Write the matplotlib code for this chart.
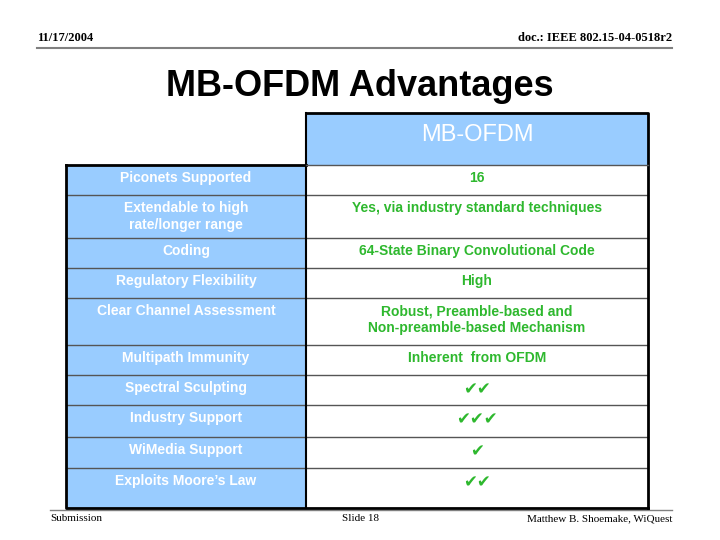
import matplotlib
matplotlib.use("Agg")
import matplotlib.pyplot as plt
from matplotlib.patches import Rectangle

title = "MB-OFDM Advantages"
column_header = "MB-OFDM"
features = ["Piconets Supported", "Extendable to high\nrate/longer range", "Coding",
            "Regulatory Flexibility", "Clear Channel Assessment", "Multipath Immunity",
            "Spectral Sculpting", "Industry Support", "WiMedia Support", "Exploits Moore\u2019s Law"]
values = ["16", "Yes, via industry standard techniques", "64-State Binary Convolutional Code",
          "High", "Robust, Preamble-based and\nNon-preamble-based Mechanism", "Inherent  from OFDM",
          "\u2714\u2714", "\u2714\u2714\u2714", "\u2714", "\u2714\u2714"]
header_left = "11/17/2004"
header_right = "doc.: IEEE 802.15-04-0518r2"
footer = ["Submission", "Slide 18", "Matthew B. Shoemake, WiQuest"]

# layout (pixels)
row_edges = [165, 195, 238, 268, 298, 345, 375, 405, 437, 468, 508]
x0, xm, x1, ytop = 66, 306, 648, 113
blue = "#99CCFF"
green = "#2EB82E"

fig = plt.figure(figsize=(7.2, 5.4), dpi=100)
ax = fig.add_axes([0, 0, 1, 1])
ax.set_xlim(0, 720); ax.set_ylim(540, 0); ax.axis("off")

serif = "Liberation Serif"
ax.plot([37, 672], [48, 48], color="#808080", lw=1.5)
ax.text(37, 44, header_left, fontfamily=serif, fontweight="bold", fontsize=9, va="bottom")
ax.text(672, 44, header_right, fontfamily=serif, fontweight="bold", fontsize=9, va="bottom", ha="right")
ax.text(360, 87, title, fontfamily="Liberation Sans", fontweight="bold", fontsize=26, ha="center", va="center")

ax.plot([50, 672], [510, 510], color="#808080", lw=1)
ax.text(50, 514, footer[0], fontfamily=serif, fontsize=8, va="top")
ax.text(360, 514, footer[1], fontfamily=serif, fontsize=8, va="top", ha="center")
ax.text(672, 514, footer[2], fontfamily=serif, fontsize=8, va="top", ha="right")

ax.add_patch(Rectangle((xm, ytop), x1 - xm, row_edges[0] - ytop, facecolor=blue, edgecolor="none"))
ax.text((xm + x1) / 2, 135, column_header, color="white", fontfamily="Liberation Sans", fontsize=17, ha="center", va="center")
ax.add_patch(Rectangle((x0, row_edges[0]), xm - x0, row_edges[-1] - row_edges[0], facecolor=blue, edgecolor="none"))

for i, (f, v) in enumerate(zip(features, values)):
    a, b = row_edges[i], row_edges[i + 1]
    ax.text((x0 + xm) / 2, a + 6, f, color="white", fontweight="bold", fontfamily="Liberation Sans",
            fontsize=10, ha="center", va="top", linespacing=1.3)
    if v.startswith("\u2714"):
        ax.text((xm + x1) / 2, a + 5, v, color=green, fontfamily="DejaVu Sans",
                fontsize=12, ha="center", va="top")
    else:
        ax.text((xm + x1) / 2, a + 6, v, color=green, fontweight="bold", fontfamily="Liberation Sans",
                fontsize=10, ha="center", va="top", linespacing=1.3)
    if i > 0:
        ax.plot([x0, x1], [a, a], color="#555555", lw=1)

k = "black"
ax.plot([xm, xm], [ytop, row_edges[-1]], color=k, lw=1.5)
ax.plot([xm, x1, x1], [ytop, ytop, row_edges[-1]], color=k, lw=2)
ax.plot([x0, x0, x1], [row_edges[0], row_edges[-1], row_edges[-1]], color=k, lw=2)
ax.plot([x0, xm], [row_edges[0], row_edges[0]], color=k, lw=2)
ax.plot([xm, x1], [row_edges[0], row_edges[0]], color="#555555", lw=1)

fig.savefig("out.png", dpi=100)
